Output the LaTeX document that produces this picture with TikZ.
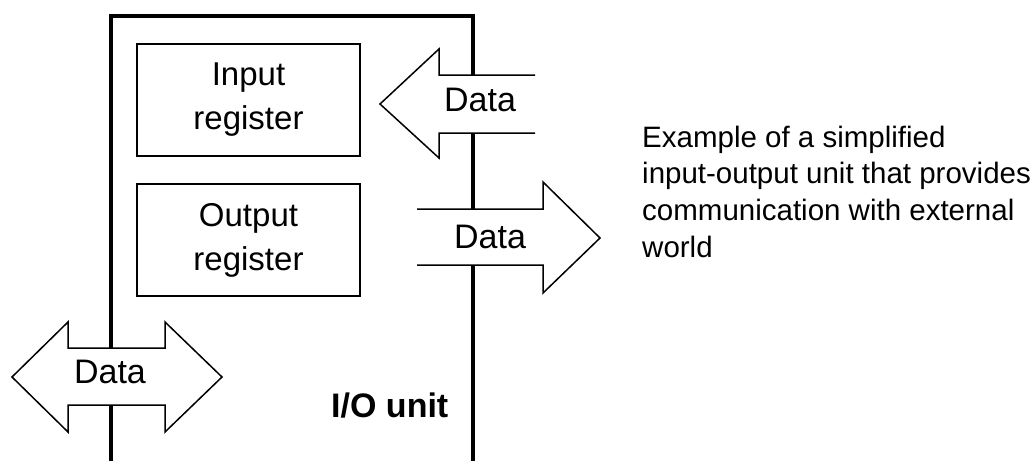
\documentclass[tikz,border=0pt]{standalone}
\usepackage{fontspec}
\setmainfont{Liberation Sans}
\begin{document}
\begin{tikzpicture}[x=1pt,y=-1pt,
  unitline/.style={line width=4.5pt, line join=miter},
  regbox/.style={draw, line width=1.6pt, minimum width=223pt, minimum height=112pt, inner sep=0pt, align=center, font=\fontsize{33}{44}\selectfont},
  databus/.style={draw, fill=white, line width=1.5pt, line join=miter},
  datalabel/.style={inner sep=0pt, font=\fontsize{34}{40}\selectfont},
  note/.style={inner sep=0pt, align=left, anchor=north west, font=\fontsize{29.5}{36.8}\selectfont}
]
\fill[white] (0,0) rectangle (1032,460);
\useasboundingbox (0,0) rectangle (1032,460);

% I/O unit outline (open at the bottom)
\draw[unitline] (111,470) |- (473,16) -- (473,470);

% register boxes
\node[regbox] (inreg)  at (248.5,100) {Input\\register};
\node[regbox] (outreg) at (248.5,240) {Output\\register};

% input data arrow (pointing left, open at right)
\path[databus] (535,75) -- (439,75) -- (439,49) -- (380,104) -- (439,158) -- (439,133) -- (535,133);
\node[datalabel] (indata) at (480,100) {Data};

% output data arrow (pointing right, open at left)
\path[databus] (417,209) -- (543,209) -- (543,182) -- (600,238) -- (543,293) -- (543,265) -- (417,265);
\node[datalabel] (outdata) at (490,237) {Data};

% bidirectional data arrow
\path[databus] (12,377) -- (68,322) -- (68,348) -- (165,348) -- (165,322) -- (222,377)
  -- (165,432) -- (165,405) -- (68,405) -- (68,432) -- cycle;
\node[datalabel] (busdata) at (110,372) {Data};

% unit label
\node[inner sep=0pt, anchor=base west, font=\fontsize{34}{40}\selectfont\bfseries] (iolabel) at (331,417) {I/O unit};

% caption
\node[note] (caption) at (642,125.5) {Example of a simplified\\input-output unit that provides\\communication with external\\world};
\end{tikzpicture}
\end{document}
